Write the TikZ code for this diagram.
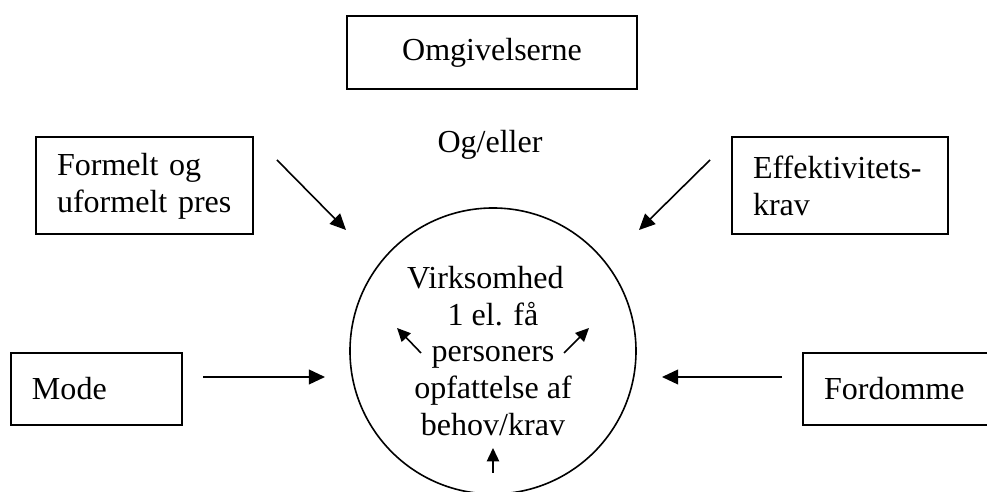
\documentclass[tikz,border=0pt]{standalone}
\usepackage{fontspec}
\setmainfont{Liberation Serif}
\usetikzlibrary{arrows.meta}

\begin{document}
\begin{tikzpicture}[
    x=0.3745pt, y=-0.3745pt, % one unit = one pixel of the sketch
    every node/.style={font=\fontsize{12}{13.8}\selectfont},
    factor box/.style={draw, line width=0.75pt, align=left, inner xsep=7.9pt},
    push/.style={-{Triangle[length=6pt, width=5.5pt]}, line width=0.6pt},
    inner push/.style={-{Triangle[length=5pt, width=4.6pt]}, line width=0.6pt}
]

    % --- 1. FRAME ---
    \useasboundingbox (0,0) rectangle (987,492);

    \def\cx{493}
    \def\cy{351}

    % --- 2. CENTRE: THE FIRM ---
    \node[circle, draw, line width=0.6pt, minimum size=286*0.3745pt, align=center]
        (firm) at (\cx,\cy)
        {Virksomhed\hspace*{5.7pt}\\ 1 el. få\\ personers\\ opfattelse af\\ behov/krav};

    % --- 3. SURROUNDING FACTORS ---
    \node[draw, line width=0.75pt, minimum width=290*0.3745pt, minimum height=73*0.3745pt]
        (omgiv) at (492,52.5) {Omgivelserne};
    \node (ogeller) at (490,145) {Og/eller};

    \node[factor box, text width=175*0.3745pt, minimum height=97*0.3745pt]
        (pres) at (144.5,186) {Formelt og\\ uformelt pres};
    \node[factor box, text width=174*0.3745pt, minimum height=97*0.3745pt]
        (effekt) at (840,185.5) {Effektivitets-\\ krav};
    \node[factor box, text width=129*0.3745pt, minimum height=72*0.3745pt]
        (mode) at (96.5,389) {Mode};
    \node[factor box, text width=160*0.3745pt, minimum height=72*0.3745pt]
        (fordom) at (904,389) {Fordomme};

    % --- 4. ARROW ENDS (free, with gaps to boxes and circle) ---
    \coordinate (presA) at (277,160);   \coordinate (presB) at (346,230);
    \coordinate (effektA) at (710,160); \coordinate (effektB) at (639,230);
    \coordinate (modeA) at (203,377);   \coordinate (modeB) at (325,377);
    \coordinate (fordomA) at (782,377); \coordinate (fordomB) at (662,377);

    \coordinate (leftA) at (421,353);   \coordinate (leftB) at (397,328);
    \coordinate (rightA) at (564,353);  \coordinate (rightB) at (589,328);
    \coordinate (lowA) at (\cx,473);    \coordinate (lowB) at (\cx,448);

    % --- 5. ARROWS ---
    \draw[push] (presA) -- (presB);
    \draw[push] (effektA) -- (effektB);
    \draw[push] (modeA) -- (modeB);
    \draw[push] (fordomA) -- (fordomB);

    \draw[inner push] (leftA) -- (leftB);
    \draw[inner push] (rightA) -- (rightB);
    \draw[inner push] (lowA) -- (lowB);

\end{tikzpicture}
\end{document}
